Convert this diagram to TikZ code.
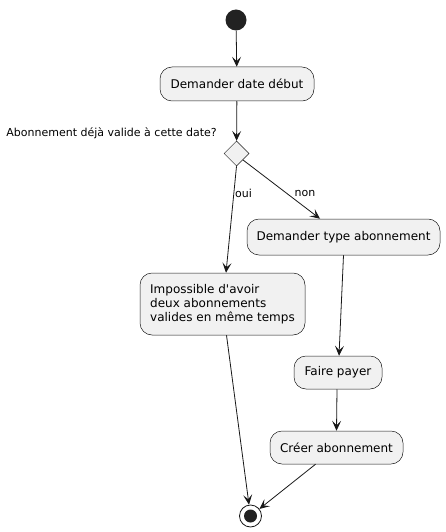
\documentclass[tikz,border=0pt]{standalone}
\usepackage{fontspec}
\setmainfont{DejaVu Sans}[Ligatures=TeXOff]
\usetikzlibrary{shapes.geometric,arrows.meta}
\definecolor{boxfill}{HTML}{F1F1F1}
\definecolor{ink}{HTML}{181818}
\definecolor{dot}{HTML}{222222}
\tikzset{
  act/.style={draw=ink, fill=boxfill, rounded corners=12pt, line width=0.5pt, inner sep=0pt, font=\fontsize{12}{14}\selectfont, text=black},
  flow/.style={draw=ink, line width=0.8pt, -{Stealth[length=10pt,width=9pt,inset=4.5pt]}},
  lbl/.style={font=\fontsize{11}{13}\selectfont, inner sep=0pt, text=black}
}
\begin{document}
\begin{tikzpicture}[x=1pt,y=-1pt]
\useasboundingbox (0,0) rectangle (445,532);
\node[circle, fill=dot, minimum size=21pt, inner sep=0pt] (start) at (236,20) {};
\node[act, minimum width=154pt, minimum height=34pt] (a1) at (237,84) {Demander date début};
\node[diamond, draw=ink, fill=boxfill, line width=0.5pt, minimum width=25pt, minimum height=25pt, inner sep=0pt, aspect=1] (d) at (236.5,153.5) {};
\node[lbl, anchor=east] (q) at (217,133) {Abonnement déjà valide à cette date?};
\node[act, minimum width=193pt, minimum height=36pt] (a2) at (343.5,237) {Demander type abonnement};
\node[act, minimum width=165pt, minimum height=62pt, align=left] (a3) at (222.5,304) {Impossible d'avoir\\deux abonnements\\valides en même temps};
\node[act, minimum width=88pt, minimum height=33pt] (a4) at (338,372.5) {Faire payer};
\node[act, minimum width=133pt, minimum height=33pt] (a5) at (336.5,447.5) {Créer abonnement};
\node[circle, draw=ink, fill=white, line width=0.8pt, minimum size=22pt, inner sep=0pt] (end) at (250.5,516) {};
\node[circle, fill=dot, minimum size=13pt, inner sep=0pt] (endin) at (end.center) {};
\node[lbl, anchor=west] (oui) at (235,193) {oui};
\node[lbl] (non) at (305,193) {non};
\draw[flow] (start) -- (a1);
\draw[flow] (a1) -- (d);
\draw[flow] (d.south) -- ([xshift=3.5pt]a3.north);
\draw[flow] (d.south east) -- ([xshift=-23.5pt]a2.north);
\draw[flow] (a2.south) -- ([xshift=1pt]a4.north);
\draw[flow] ([xshift=-1pt]a4.south) -- (a5.north);
\draw[flow] ([xshift=4pt]a3.south) -- (end);
\draw[flow] ([xshift=-21pt]a5.south) -- (end);
\end{tikzpicture}
\end{document}
